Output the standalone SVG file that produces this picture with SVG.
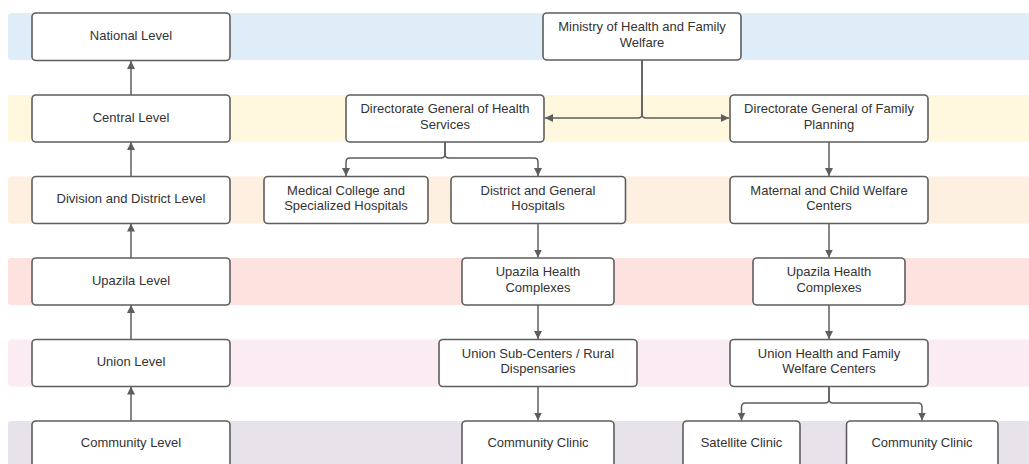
<svg xmlns="http://www.w3.org/2000/svg" width="1029" height="464" viewBox="0 0 1029 464">
<style>
.band{stroke:none}
.box{fill:#ffffff;stroke:#5e5e5e;stroke-width:1.6}
.t{font-family:"Liberation Sans",Arial,sans-serif;font-size:13px;fill:#333333;text-anchor:middle}
.c{fill:none;stroke:#5e5e5e;stroke-width:1.5}
</style>
<defs>
<marker id="ah" viewBox="0 0 10 10" refX="10" refY="5" markerWidth="8" markerHeight="8" markerUnits="userSpaceOnUse" orient="auto">
<path d="M0,0 L10,5 L0,10 z" fill="#5e5e5e"/>
</marker>
</defs>
<rect width="1029" height="464" fill="#ffffff"/>
<g id="bands">
<rect class="band" x="8" y="13" width="1030" height="47" rx="3" fill="#deedf8"/>
<rect class="band" x="8" y="95" width="1030" height="47" rx="3" fill="#fff7de"/>
<rect class="band" x="8" y="176.5" width="1030" height="47" rx="3" fill="#fdf0e0"/>
<rect class="band" x="8" y="258" width="1030" height="47" rx="3" fill="#fde2df"/>
<rect class="band" x="8" y="339.5" width="1030" height="47" rx="3" fill="#fbebf2"/>
<rect class="band" x="8" y="421" width="1030" height="60" rx="3" fill="#e8e2eb"/>
</g>
<g id="connectors">
<line class="c" x1="131" y1="95" x2="131" y2="61" marker-end="url(#ah)"/>
<line class="c" x1="131" y1="176.5" x2="131" y2="142" marker-end="url(#ah)"/>
<line class="c" x1="131" y1="258" x2="131" y2="223.5" marker-end="url(#ah)"/>
<line class="c" x1="131" y1="339.5" x2="131" y2="305" marker-end="url(#ah)"/>
<line class="c" x1="131" y1="421" x2="131" y2="386.5" marker-end="url(#ah)"/>
<path class="c" d="M642,60 V114 Q642,118 638,118 H545" marker-end="url(#ah)"/>
<path class="c" d="M642,60 V114 Q642,118 646,118 H729" marker-end="url(#ah)"/>
<path class="c" d="M445,142 V154 Q445,158 441,158 H350 Q346,158 346,162 V176" marker-end="url(#ah)"/>
<path class="c" d="M445,142 V154 Q445,158 449,158 H534 Q538,158 538,162 V176" marker-end="url(#ah)"/>
<line class="c" x1="829" y1="142" x2="829" y2="176" marker-end="url(#ah)"/>
<line class="c" x1="538" y1="223.5" x2="538" y2="257.5" marker-end="url(#ah)"/>
<line class="c" x1="829" y1="223.5" x2="829" y2="257.5" marker-end="url(#ah)"/>
<line class="c" x1="538" y1="305" x2="538" y2="339" marker-end="url(#ah)"/>
<line class="c" x1="829" y1="305" x2="829" y2="339" marker-end="url(#ah)"/>
<line class="c" x1="538" y1="386.5" x2="538" y2="420.5" marker-end="url(#ah)"/>
<path class="c" d="M829,386.5 V399 Q829,403 825,403 H745.5 Q741.5,403 741.5,407 V420.5" marker-end="url(#ah)"/>
<path class="c" d="M829,386.5 V399 Q829,403 833,403 H918 Q922,403 922,407 V420.5" marker-end="url(#ah)"/>
</g>
<g id="national-level"><rect class="box" x="32" y="13" width="198" height="47.5" rx="4"/><text class="t" x="131" y="39.5">National Level</text></g>
<g id="central-level"><rect class="box" x="32" y="95" width="198" height="47" rx="4"/><text class="t" x="131" y="121.5">Central Level</text></g>
<g id="division-level"><rect class="box" x="32" y="176.5" width="198" height="47" rx="4"/><text class="t" x="131" y="203">Division and District Level</text></g>
<g id="upazila-level"><rect class="box" x="32" y="258" width="198" height="47" rx="4"/><text class="t" x="131" y="284.5">Upazila Level</text></g>
<g id="union-level"><rect class="box" x="32" y="339.5" width="198" height="47" rx="4"/><text class="t" x="131" y="366">Union Level</text></g>
<g id="community-level"><rect class="box" x="32" y="421" width="198" height="60" rx="4"/><text class="t" x="131" y="447">Community Level</text></g>

<g id="ministry"><rect class="box" x="543" y="13" width="198" height="47" rx="4"/><text class="t" x="642" y="31">Ministry of Health and Family</text><text class="t" x="642" y="46.5">Welfare</text></g>
<g id="dghs"><rect class="box" x="346" y="95" width="198" height="47" rx="4"/><text class="t" x="445" y="113">Directorate General of Health</text><text class="t" x="445" y="128.5">Services</text></g>
<g id="dgfp"><rect class="box" x="730" y="95" width="198" height="47" rx="4"/><text class="t" x="829" y="113">Directorate General of Family</text><text class="t" x="829" y="128.5">Planning</text></g>
<g id="medical-college"><rect class="box" x="264" y="176.5" width="164" height="47" rx="4"/><text class="t" x="346" y="194.5">Medical College and</text><text class="t" x="346" y="210">Specialized Hospitals</text></g>
<g id="district-hospitals"><rect class="box" x="451" y="176.5" width="174.5" height="47" rx="4"/><text class="t" x="538" y="194.5">District and General</text><text class="t" x="538" y="210">Hospitals</text></g>
<g id="maternal-child"><rect class="box" x="730" y="176.5" width="198" height="47" rx="4"/><text class="t" x="829" y="194.5">Maternal and Child Welfare</text><text class="t" x="829" y="210">Centers</text></g>
<g id="uhc-health"><rect class="box" x="462" y="258" width="152" height="47" rx="4"/><text class="t" x="538" y="276">Upazila Health</text><text class="t" x="538" y="291.5">Complexes</text></g>
<g id="uhc-family"><rect class="box" x="753" y="258" width="152" height="47" rx="4"/><text class="t" x="829" y="276">Upazila Health</text><text class="t" x="829" y="291.5">Complexes</text></g>
<g id="union-subcenters"><rect class="box" x="439" y="339.5" width="198" height="47" rx="4"/><text class="t" x="538" y="357.5">Union Sub-Centers / Rural</text><text class="t" x="538" y="373">Dispensaries</text></g>
<g id="union-hfwc"><rect class="box" x="730" y="339.5" width="198" height="47" rx="4"/><text class="t" x="829" y="357.5">Union Health and Family</text><text class="t" x="829" y="373">Welfare Centers</text></g>
<g id="community-clinic-1"><rect class="box" x="462" y="421" width="152" height="60" rx="4"/><text class="t" x="538" y="447">Community Clinic</text></g>
<g id="satellite-clinic"><rect class="box" x="683" y="421" width="117" height="60" rx="4"/><text class="t" x="741.5" y="447">Satellite Clinic</text></g>
<g id="community-clinic-2"><rect class="box" x="846.5" y="421" width="151.5" height="60" rx="4"/><text class="t" x="922" y="447">Community Clinic</text></g>
</svg>
